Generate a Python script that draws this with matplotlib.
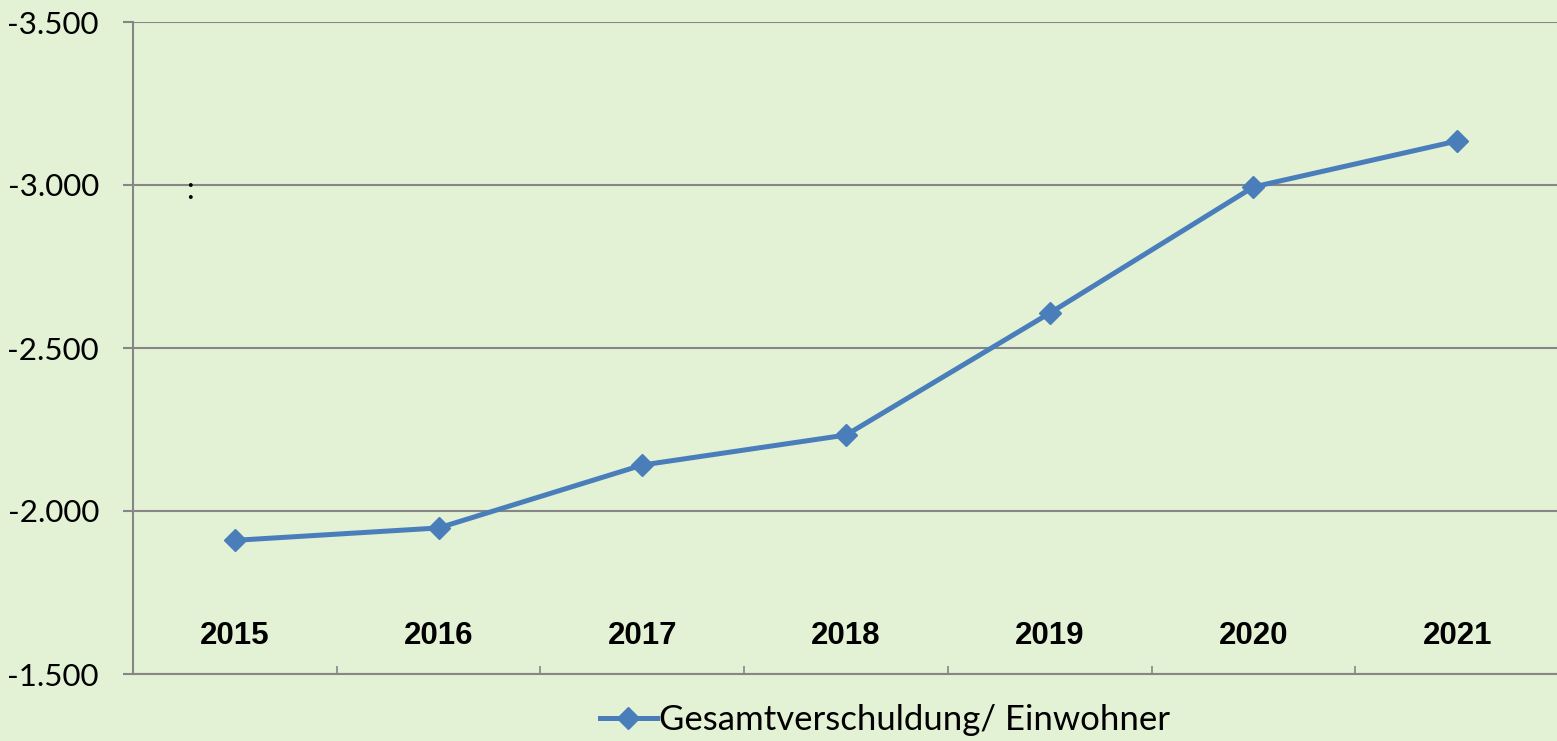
import numpy as np
import matplotlib
matplotlib.use('Agg')
import matplotlib.pyplot as plt
from matplotlib.ticker import FuncFormatter, FixedLocator

# data
years = ['2015', '2016', '2017', '2018', '2019', '2020', '2021']
debt_per_capita = [-1910, -1948, -2141, -2233, -2607, -2994, -3135]
series_name = 'Gesamtverschuldung/ Einwohner'

bg = '#E3F1D5'
line_col = '#4A7EBB'
grid_col = '#868686'

fig = plt.figure(figsize=(15.57, 7.41), dpi=100, facecolor=bg)
ax = fig.add_axes([133/1557, 1 - 674/741, 1426/1557, 652/741])
ax.set_facecolor(bg)

x = np.arange(len(years))
ax.plot(x, debt_per_capita, color=line_col, lw=3.6, marker='D', ms=11,
        mec=line_col, mfc=line_col, label=series_name, zorder=3)

ax.set_xlim(-0.5, len(years) - 0.5)
ax.set_ylim(-1500, -3500)
ax.set_yticks([-1500, -2000, -2500, -3000, -3500])
ax.yaxis.set_major_formatter(FuncFormatter(lambda v, p: f'{int(v):,}'.replace(',', '.')))
ax.grid(axis='y', color=grid_col, lw=1.5, zorder=1)

for s in ['top', 'right']:
    ax.spines[s].set_visible(False)
for s in ['left', 'bottom']:
    ax.spines[s].set_color(grid_col)
    ax.spines[s].set_linewidth(1.5)

ax.tick_params(axis='y', direction='out', length=7.5, width=1.5, color=grid_col,
               pad=17, labelsize=22.5, labelfontfamily='Lato')
ax.xaxis.set_major_locator(FixedLocator(x[:-1] + 0.5))
ax.tick_params(axis='x', direction='in', length=6, width=1.2, color=grid_col,
               labelbottom=False)

# year labels sit inside the plot, above the axis
for xi, yr in zip(x, years):
    ax.text(xi, 0.058, yr, transform=ax.get_xaxis_transform(), ha='center', va='center',
            fontsize=22.5, fontweight='bold', family='Liberation Sans')

# stray colon in the original
ax.text(-0.22, -2985, ':', ha='center', va='center', fontsize=22, family='Lato')

leg = ax.legend(loc='center', bbox_to_anchor=(885/1557, 1 - 720/741),
                bbox_transform=fig.transFigure, frameon=False,
                prop={'family': 'Lato', 'size': 25}, handlelength=1.65, handletextpad=0.06)

fig.savefig('out.png', dpi=100, facecolor=bg)
